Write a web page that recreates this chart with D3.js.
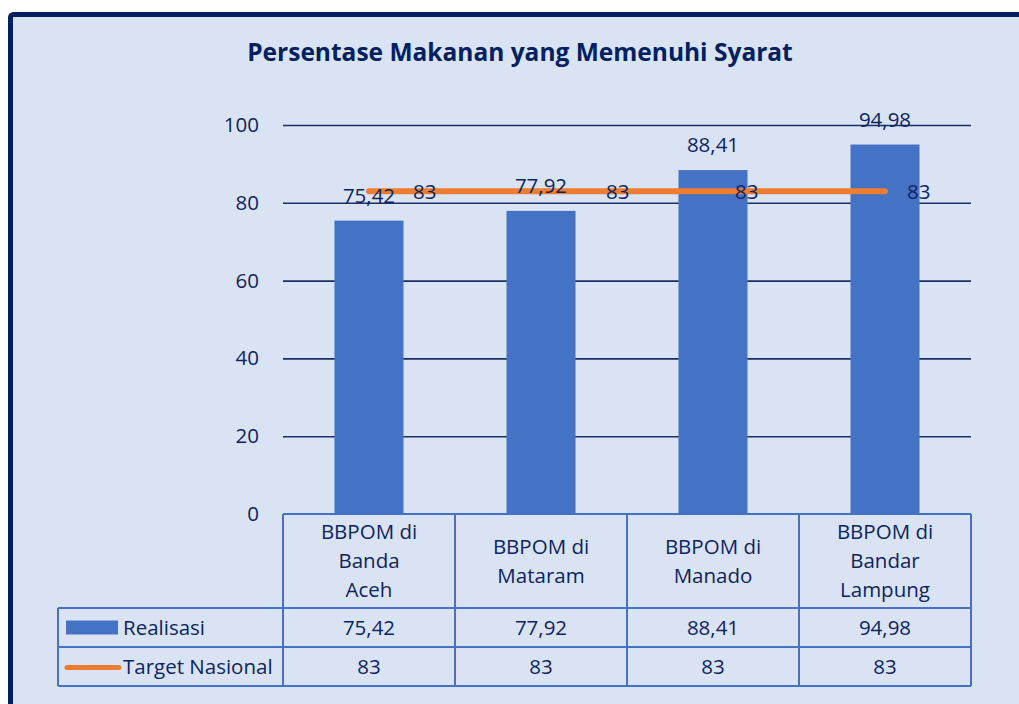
<!DOCTYPE html>
<html>
<head>
<meta charset="utf-8">
<script src="https://cdn.jsdelivr.net/npm/d3@7.9.0/dist/d3.min.js"></script>
<style>
  html, body { margin: 0; padding: 0; background: #fff; }
  svg { display: block; font-family: "Open Sans", sans-serif; }
</style>
</head>
<body>
<svg width="1019" height="704"></svg>
<script>
// data
const categories = [
  ['BBPOM di', 'Banda', 'Aceh'],
  ['BBPOM di', 'Mataram'],
  ['BBPOM di', 'Manado'],
  ['BBPOM di', 'Bandar', 'Lampung']
];
const realisasi   = [75.42, 77.92, 88.41, 94.98];
const target      = [83, 83, 83, 83];
const yTicks      = [0, 20, 40, 60, 80, 100];
const seriesNames = ['Realisasi', 'Target Nasional'];
// extra horizontal push for the "83" labels (Excel moved some to dodge)
const targetLabelShift = [22, 43, 0, 0];

const textColor = '#0b2561';
const barColor  = '#4472c4';
const lineColor = '#ed7d31';
const fs = 20.5;
const fmt = v => String(v).replace('.', ',');

const svg = d3.select('svg');

// frame
svg.append('rect')
  .attr('x', 10.5).attr('y', 14.5)
  .attr('width', 1040).attr('height', 720)
  .attr('rx', 3)
  .attr('fill', '#dae3f3')
  .attr('stroke', '#002060')
  .attr('stroke-width', 5);

svg.append('text')
  .attr('x', 520).attr('y', 61)
  .attr('text-anchor', 'middle')
  .attr('fill', '#002060')
  .attr('font-weight', 700)
  .attr('font-size', 24.5)
  .text('Persentase Makanan yang Memenuhi Syarat');

const plotL = 283, plotR = 971, plotT = 125, plotB = 514;

const x = d3.scaleBand()
  .domain(d3.range(categories.length))
  .range([plotL, plotR])
  .paddingInner(0).paddingOuter(0);

const y = d3.scaleLinear().domain([0, 100]).range([plotB, plotT]);

// gridlines + tick labels
const yAxis = d3.axisLeft(y)
  .tickValues(yTicks)
  .tickSize(-(plotR - plotL))
  .tickPadding(24)
  .tickFormat(d => d);

const gy = svg.append('g')
  .attr('transform', `translate(${plotL},0)`)
  .call(yAxis);
gy.select('.domain').remove();
gy.selectAll('.tick line')
  .attr('stroke', '#1b2f66')
  .attr('stroke-width', 1.6)
  .attr('display', d => d === 0 ? 'none' : null);
gy.selectAll('.tick text')
  .attr('fill', textColor)
  .attr('font-size', fs)
  .attr('font-family', '"Open Sans", sans-serif');

// bars
const barW = 69;
svg.append('g').selectAll('rect')
  .data(realisasi)
  .join('rect')
  .attr('x', (d, i) => x(i) + x.bandwidth() / 2 - barW / 2)
  .attr('y', d => y(d))
  .attr('width', barW)
  .attr('height', d => y(0) - y(d))
  .attr('fill', barColor);

// target line
const line = d3.line()
  .x((d, i) => x(i) + x.bandwidth() / 2)
  .y(d => y(d));
svg.append('path')
  .datum(target)
  .attr('d', line)
  .attr('fill', 'none')
  .attr('stroke', lineColor)
  .attr('stroke-width', 6)
  .attr('stroke-linecap', 'round');

// bar labels
svg.append('g').selectAll('text')
  .data(realisasi)
  .join('text')
  .attr('x', (d, i) => x(i) + x.bandwidth() / 2)
  .attr('y', d => y(d) - 18)
  .attr('text-anchor', 'middle')
  .attr('fill', textColor)
  .attr('font-size', fs)
  .text(fmt);

// target labels
svg.append('g').selectAll('text')
  .data(target)
  .join('text')
  .attr('x', (d, i) => x(i) + x.bandwidth() / 2 + 22 + targetLabelShift[i])
  .attr('y', d => y(d) + 7.5)
  .attr('fill', textColor)
  .attr('font-size', fs)
  .text(fmt);

// data table
const tableColor = '#4472c4';
const rowTop = plotB, headBottom = 608, row1Bottom = 647, row2Bottom = 686;
const tableLeft = 58;
const tg = svg.append('g')
  .attr('stroke', tableColor)
  .attr('stroke-width', 2)
  .attr('fill', 'none');

tg.append('line').attr('x1', plotL).attr('x2', plotR).attr('y1', rowTop).attr('y2', rowTop);
[headBottom, row1Bottom, row2Bottom].forEach(yy =>
  tg.append('line').attr('x1', tableLeft).attr('x2', plotR).attr('y1', yy).attr('y2', yy));
tg.append('line').attr('x1', tableLeft).attr('x2', tableLeft).attr('y1', headBottom).attr('y2', row2Bottom);
d3.range(categories.length + 1).forEach(i => {
  const xx = i < categories.length ? x(i) : plotR;
  tg.append('line').attr('x1', xx).attr('x2', xx).attr('y1', rowTop).attr('y2', row2Bottom);
});

// category labels
const lineH = 29;
categories.forEach((lines, i) => {
  const cx = x(i) + x.bandwidth() / 2;
  const mid = (rowTop + headBottom) / 2;
  const t = svg.append('text')
    .attr('text-anchor', 'middle')
    .attr('fill', textColor)
    .attr('font-size', fs);
  lines.forEach((s, j) => {
    t.append('tspan')
      .attr('x', cx)
      .attr('y', mid + (j - (lines.length - 1) / 2) * lineH + 7)
      .text(s);
  });
});

// value rows
const r1 = (headBottom + row1Bottom) / 2, r2 = (row1Bottom + row2Bottom) / 2;
[realisasi, target].forEach((vals, r) => {
  svg.append('g').selectAll('text')
    .data(vals)
    .join('text')
    .attr('x', (d, i) => x(i) + x.bandwidth() / 2)
    .attr('y', (r === 0 ? r1 : r2) + 7.5)
    .attr('text-anchor', 'middle')
    .attr('fill', textColor)
    .attr('font-size', fs)
    .text(fmt);
});

// legend keys in table
svg.append('rect')
  .attr('x', 66).attr('y', r1 - 7)
  .attr('width', 52).attr('height', 14)
  .attr('fill', barColor);
svg.append('line')
  .attr('x1', 67).attr('x2', 119)
  .attr('y1', r2 + 1).attr('y2', r2 + 1)
  .attr('stroke', lineColor)
  .attr('stroke-width', 5)
  .attr('stroke-linecap', 'round');
seriesNames.forEach((s, i) => {
  svg.append('text')
    .attr('x', 123)
    .attr('y', (i === 0 ? r1 : r2) + 7.5)
    .attr('fill', textColor)
    .attr('font-size', fs)
    .text(s);
});
</script>
</body>
</html>
